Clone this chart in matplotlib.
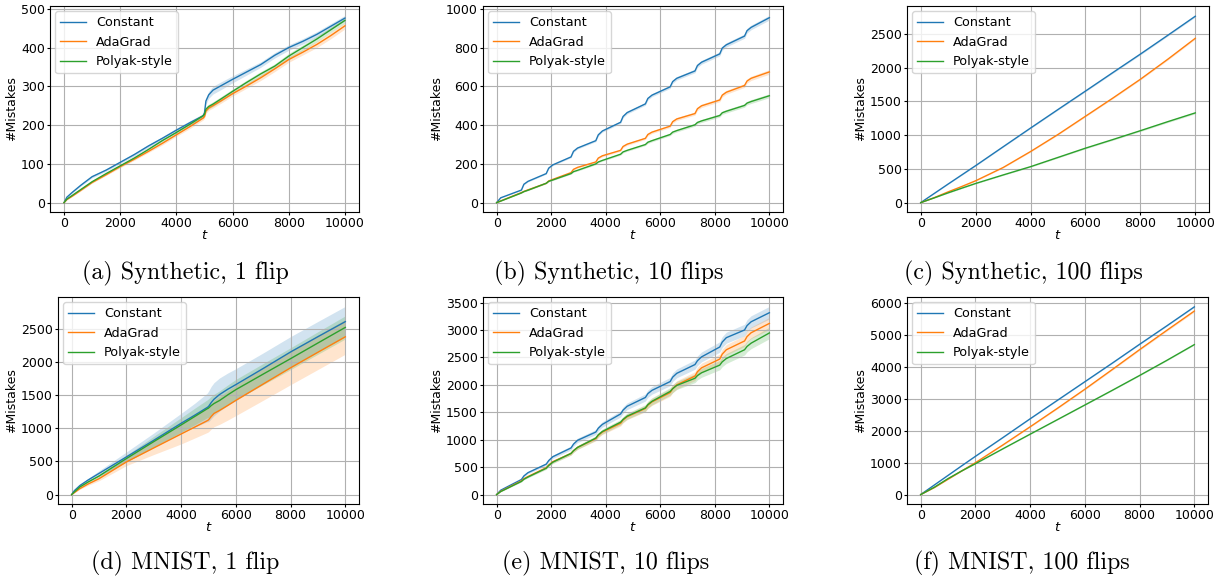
import numpy as np
import matplotlib
matplotlib.use("Agg")
import matplotlib.pyplot as plt
from matplotlib.ticker import MultipleLocator

# ---------------- data ----------------
series_names = ["Constant", "AdaGrad", "Polyak-style"]
colors = ["#1f77b4", "#ff7f0e", "#2ca02c"]

# (a) Synthetic, 1 flip
t_a = [0, 100, 300, 600, 1000, 1500, 2000, 2500, 3000, 3500, 4000, 4500, 4950, 5000,
       5050, 5150, 5300, 5600, 6000, 6500, 7000, 7500, 8000, 8500, 9000, 9500, 10000]
a_const = [0, 14, 27, 45, 67, 84, 104, 124, 146, 166, 187, 207, 224, 232,
           262, 278, 290, 302, 318, 337, 356, 380, 400, 416, 434, 455, 476]
a_ada = [0, 8, 17, 32, 52, 72, 93, 112, 132, 153, 175, 197, 218, 222,
         236, 244, 250, 263, 281, 301, 322, 345, 369, 388, 408, 431, 456]
a_pol = [0, 9, 19, 34, 54, 75, 95, 115, 137, 160, 181, 203, 224, 228,
         241, 248, 254, 268, 287, 310, 332, 352, 378, 400, 422, 446, 470]
a_const_sd = [0, 1, 2, 2, 3, 3, 3, 4, 4, 4, 5, 5, 5, 6,
              8, 9, 10, 10, 9, 8, 7, 7, 7, 7, 7, 7, 7]
a_ada_sd = [0, 1, 1, 2, 2, 2, 3, 3, 3, 4, 4, 5, 5, 5,
            6, 6, 6, 6, 6, 6, 7, 7, 7, 7, 8, 8, 8]
a_pol_sd = [0, 1, 1, 2, 2, 2, 3, 3, 3, 4, 4, 5, 5, 5,
            6, 6, 6, 6, 6, 6, 6, 6, 7, 7, 7, 7, 7]

# (b) Synthetic, 10 flips
t_b = [0, 150, 909, 1000, 1150, 1818, 1909, 2059, 2727, 2818, 2968, 3636, 3727, 3877,
       4545, 4636, 4786, 5454, 5545, 5695, 6363, 6454, 6604, 7272, 7363, 7513,
       8181, 8272, 8422, 9090, 9181, 9331, 10000]
b_const = [0, 25, 65, 95, 110, 150, 178, 195, 236, 265, 282, 320, 350, 370,
           415, 445, 465, 510, 538, 555, 598, 625, 642, 680, 708, 725,
           768, 798, 815, 860, 888, 905, 955]
b_ada = [0, 9, 52, 58, 66, 100, 112, 120, 155, 172, 182, 210, 230, 242,
         270, 290, 302, 332, 352, 364, 395, 418, 432, 460, 485, 500,
         530, 555, 570, 605, 628, 642, 675]
b_pol = [0, 8, 50, 57, 64, 100, 110, 117, 150, 160, 167, 200, 210, 218,
         250, 262, 270, 300, 312, 320, 352, 364, 372, 402, 414, 422,
         450, 464, 472, 502, 514, 522, 552]
b_const_sd = [0, 1, 2, 3, 3, 3, 4, 4, 4, 5, 5, 5, 6, 6,
              6, 7, 7, 7, 8, 8, 8, 9, 9, 9, 10, 10,
              10, 11, 11, 11, 12, 12, 12]
b_ada_sd = [0, 1, 2, 2, 2, 3, 3, 3, 3, 4, 4, 4, 5, 5,
            5, 6, 6, 6, 7, 7, 7, 8, 8, 8, 9, 9,
            9, 10, 10, 10, 11, 11, 12]
b_pol_sd = [0, 1, 1, 2, 2, 2, 3, 3, 3, 3, 4, 4, 4, 4,
            5, 5, 5, 5, 6, 6, 6, 7, 7, 7, 7, 8,
            8, 8, 9, 9, 9, 10, 10]

# (c) Synthetic, 100 flips
t_c = [0, 500, 1000, 1500, 2000, 3000, 4000, 5000, 6000, 7000, 8000, 9000, 10000]
c_const = [0, 138, 276, 412, 548, 827, 1105, 1380, 1653, 1928, 2201, 2480, 2762]
c_ada = [0, 75, 160, 240, 324, 520, 757, 1010, 1280, 1550, 1828, 2125, 2435]
c_pol = [0, 72, 145, 215, 284, 410, 533, 670, 807, 935, 1066, 1200, 1330]
c_const_sd = [0, 3, 4, 5, 6, 7, 8, 9, 10, 11, 12, 12, 13]
c_ada_sd = [0, 3, 4, 5, 6, 7, 8, 9, 10, 11, 12, 13, 14]
c_pol_sd = [0, 3, 4, 5, 6, 7, 8, 9, 10, 11, 12, 13, 14]

# (d) MNIST, 1 flip
t_d = [0, 100, 300, 600, 1000, 2000, 3000, 4000, 4500, 4950, 5000, 5100, 5200, 5400,
       5700, 6000, 7000, 8000, 9000, 10000]
d_const = [0, 60, 137, 220, 320, 569, 820, 1077, 1200, 1315, 1330, 1390, 1440, 1510,
           1590, 1661, 1905, 2154, 2385, 2612]
d_ada = [0, 30, 90, 160, 240, 493, 705, 915, 1020, 1115, 1128, 1180, 1225, 1270,
         1345, 1423, 1670, 1915, 2150, 2383]
d_pol = [0, 40, 115, 190, 280, 544, 800, 1052, 1180, 1295, 1306, 1345, 1375, 1420,
         1505, 1585, 1820, 2053, 2290, 2525]
d_const_sd = [0, 5, 15, 25, 40, 75, 110, 150, 180, 215, 230, 245, 250, 250,
              245, 240, 235, 232, 230, 230]
d_ada_sd = [0, 3, 10, 20, 30, 55, 100, 150, 165, 178, 180, 190, 200, 210,
            220, 230, 245, 255, 260, 263]
d_pol_sd = [0, 3, 10, 15, 25, 50, 80, 110, 125, 135, 140, 140, 140, 145,
            150, 155, 160, 165, 170, 175]

# (e) MNIST, 10 flips
t_e = t_b
e_const = [0, 80, 275, 340, 400, 555, 620, 690, 850, 920, 990, 1140, 1210, 1280,
           1470, 1540, 1610, 1770, 1840, 1900, 2060, 2140, 2210, 2370, 2440, 2510,
           2690, 2780, 2860, 3000, 3080, 3150, 3315]
e_ada = [0, 60, 250, 290, 330, 490, 540, 600, 750, 800, 860, 1020, 1080, 1140,
         1300, 1360, 1420, 1570, 1630, 1690, 1860, 1930, 2000, 2160, 2240, 2310,
         2470, 2560, 2640, 2800, 2880, 2950, 3120]
e_pol = [0, 55, 240, 280, 320, 480, 530, 590, 750, 800, 860, 1030, 1090, 1150,
         1320, 1370, 1430, 1580, 1640, 1700, 1880, 1930, 1990, 2120, 2170, 2220,
         2360, 2420, 2480, 2640, 2700, 2760, 2946]
e_const_sd = [0, 5, 12, 15, 18, 25, 28, 30, 35, 38, 40, 45, 48, 50,
              55, 58, 60, 65, 68, 70, 75, 78, 80, 85, 88, 90,
              95, 98, 100, 105, 108, 110, 115]
e_ada_sd = [0, 4, 10, 12, 14, 20, 22, 25, 30, 32, 35, 40, 42, 45,
            50, 52, 55, 60, 62, 65, 70, 72, 75, 80, 82, 85,
            90, 92, 95, 100, 102, 105, 110]
e_pol_sd = [0, 4, 10, 12, 14, 20, 22, 25, 30, 32, 35, 40, 42, 45,
            50, 52, 55, 60, 62, 65, 70, 72, 75, 78, 80, 82,
            85, 88, 90, 95, 98, 100, 105]

# (f) MNIST, 100 flips
t_f = t_c
f_const = [0, 300, 600, 900, 1196, 1780, 2370, 2950, 3530, 4110, 4700, 5280, 5870]
f_ada = [0, 220, 480, 740, 997, 1550, 2120, 2700, 3295, 3910, 4533, 5140, 5740]
f_pol = [0, 230, 500, 740, 965, 1430, 1889, 2345, 2802, 3260, 3725, 4200, 4690]
f_const_sd = [0, 4, 5, 6, 7, 8, 9, 10, 11, 12, 13, 14, 15]
f_ada_sd = [0, 5, 8, 10, 12, 15, 18, 20, 22, 25, 28, 30, 32]
f_pol_sd = [0, 4, 5, 6, 7, 8, 9, 10, 11, 12, 13, 14, 15]

captions = ["(a) Synthetic, 1 flip", "(b) Synthetic, 10 flips", "(c) Synthetic, 100 flips",
            "(d) MNIST, 1 flip", "(e) MNIST, 10 flips", "(f) MNIST, 100 flips"]
y_steps = [100, 200, 500, 500, 500, 1000]

panels = [
    (t_a, [a_const, a_ada, a_pol], [a_const_sd, a_ada_sd, a_pol_sd]),
    (t_b, [b_const, b_ada, b_pol], [b_const_sd, b_ada_sd, b_pol_sd]),
    (t_c, [c_const, c_ada, c_pol], [c_const_sd, c_ada_sd, c_pol_sd]),
    (t_d, [d_const, d_ada, d_pol], [d_const_sd, d_ada_sd, d_pol_sd]),
    (t_e, [e_const, e_ada, e_pol], [e_const_sd, e_ada_sd, e_pol_sd]),
    (t_f, [f_const, f_ada, f_pol], [f_const_sd, f_ada_sd, f_pol_sd]),
]

# ---------------- layout ----------------
W, H = 1215, 581
fig = plt.figure(figsize=(W / 100, H / 100), dpi=100)

# axes boxes in pixels: left, top, right, bottom
boxes = [
    (50, 6, 359, 212), (483, 6, 783, 212), (907, 6, 1209, 212),
    (58, 297, 359, 504), (483, 297, 783, 504), (907, 297, 1208, 504),
]
caption_pos = [(185, 273), (609, 273), (1023, 273), (185, 563), (606, 563), (1022, 563)]

for i, (t, ys, sds) in enumerate(panels):
    l, tp, r, b = boxes[i]
    ax = fig.add_axes([l / W, 1 - b / H, (r - l) / W, (b - tp) / H])
    t_arr = np.array(t, dtype=float)
    for name, y, sd, c in zip(series_names, ys, sds, colors):
        y = np.array(y, dtype=float)
        sd = np.array(sd, dtype=float)
        ax.fill_between(t_arr, y - sd, y + sd, color=c, alpha=0.2, linewidth=0)
        ax.plot(t_arr, y, color=c, lw=1.0, label=name)
    ax.grid(True, color="#b0b0b0", lw=0.8)
    ax.tick_params(labelsize=9, length=2.5, width=0.8, pad=1.2)
    ax.set_xticks([0, 2000, 4000, 6000, 8000, 10000])
    ax.yaxis.set_major_locator(MultipleLocator(y_steps[i]))
    ax.set_xlabel("$t$", fontsize=9.5, labelpad=-1)
    ax.set_ylabel("#Mistakes", fontsize=9, labelpad=2)
    ax.legend(loc="upper left", fontsize=9.2, handlelength=2.0, borderaxespad=0.4)
    cx, cy = caption_pos[i]
    fig.text(cx / W, 1 - cy / H, captions[i], ha="center", va="center",
             family="cmr10", fontsize=17.3)

fig.savefig("out.png", dpi=100)
